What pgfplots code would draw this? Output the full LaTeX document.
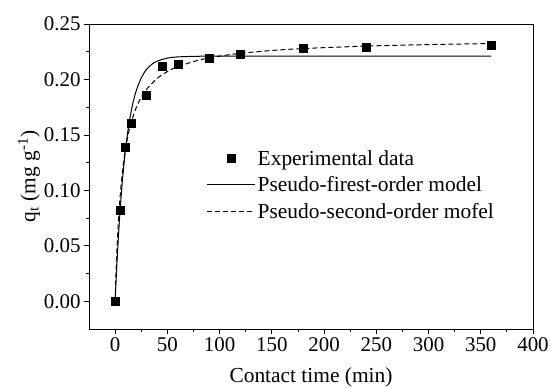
\documentclass[border=0pt]{standalone}
\usepackage{fontspec}
\setmainfont{Liberation Serif}
\usepackage{pgfplots}
\pgfplotsset{compat=1.18}
\begin{document}
\begin{tikzpicture}
\begin{axis}[
  name=ax,
  scale only axis,
  width=444bp, height=305bp,
  xmin=-25, xmax=400, ymin=-0.025, ymax=0.25,
  xtick={0,50,...,400},
  ytick={0,0.05,...,0.25},
  minor x tick num=1, minor y tick num=1,
  tick pos=left, tick align=outside,
  major tick length=5bp, minor tick length=3bp,
  every tick/.style={black, line width=0.8bp},
  axis line style={line width=0.9bp},
  /pgf/number format/assume math mode=true,
  yticklabel style={/pgf/number format/.cd, fixed, fixed zerofill, precision=2},
  ticklabel style={font=\fontsize{21}{25}\selectfont},
  label style={font=\fontsize{21.5}{25}\selectfont},
  xlabel={Contact time (min)},
  ylabel={q\textsubscript{t} (mg g\textsuperscript{-1})},
  xlabel style={at={(axis description cs:0.5,-0.157)}, anchor=center},
  ylabel style={at={(axis description cs:-0.135,0.5)}, anchor=center},
  legend style={draw=none, fill=none, font=\fontsize{21.5}{25}\selectfont,
    at={(axis description cs:0.258,0.60)}, anchor=north west,
    row sep=6bp, cells={anchor=west}},
  legend image code/.code={\draw[mark repeat=2,mark phase=2,#1] plot coordinates {(0bp,0bp) (24bp,0bp) (48bp,0bp)};},
]
\addplot[only marks, mark=square*, mark size=4bp, black] coordinates {
(0,0) (5,0.082) (10,0.139) (15,0.161) (30,0.186) (45,0.2116) (60,0.2134)
(90,0.2194) (120,0.2227) (180,0.2281) (240,0.2287) (360,0.2308)
};
\addlegendentry{Experimental data}
\addplot[black, line width=1bp, mark=none, smooth] coordinates {
(0,0) (1,0.02042) (2,0.03896) (3,0.05578) (4,0.07105) (5,0.08491) (6,0.09748)
(7,0.10889) (8,0.11925) (10,0.13721) (12,0.15200) (14,0.16418) (16,0.17421)
(18,0.18246) (20,0.18925) (25,0.20144) (30,0.20896) (35,0.21357) (40,0.21643)
(50,0.21927) (60,0.22034) (80,0.22091) (100,0.2210) (150,0.2210) (200,0.2210)
(300,0.2210) (360,0.2210)
};
\addlegendentry{Pseudo-firest-order model}
\addplot[black, line width=1bp, mark=none, dash pattern=on 5bp off 3bp, smooth] coordinates {
(0,0) (1,0.02883) (2,0.05140) (3,0.06957) (4,0.08449) (5,0.09697) (6,0.10756)
(8,0.12457) (10,0.13763) (12,0.14797) (15,0.15999) (20,0.17414) (25,0.18389)
(30,0.19102) (40,0.20076) (50,0.20710) (60,0.21154) (80,0.21738) (100,0.22104)
(120,0.22355) (150,0.22612) (180,0.22786) (240,0.23008) (300,0.23143) (360,0.23234)
};
\addlegendentry{Pseudo-second-order mofel}
\end{axis}
\pgfresetboundingbox
\path (ax.south west) ++(-89bp,-59bp) rectangle (ax.north east) ++(18bp,24bp);
\end{tikzpicture}
\end{document}
